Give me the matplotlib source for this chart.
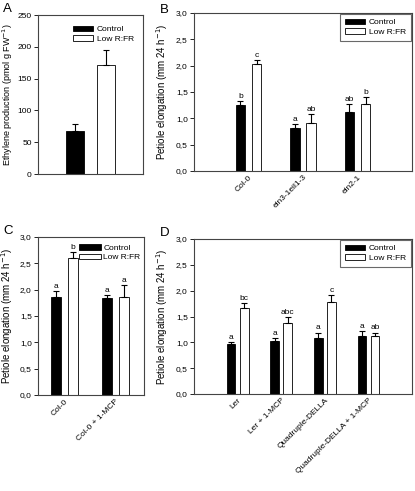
import numpy as np
import matplotlib
matplotlib.use("Agg")
import matplotlib.pyplot as plt
from matplotlib.ticker import FuncFormatter

plt.rcParams['font.family'] = ['Liberation Sans', 'DejaVu Sans']
plt.rcParams['font.size'] = 6

# --- data ---
a_ctrl, a_ctrl_err = 68, 11
a_low, a_low_err = 172, 23

b_labels = ['Col-0', 'ein3-1eil1-3', 'ein2-1']
b_ctrl = [1.25, 0.81, 1.12]
b_ctrl_err = [0.07, 0.09, 0.16]
b_low = [2.03, 0.91, 1.27]
b_low_err = [0.08, 0.17, 0.14]
b_ctrl_let = ['b', 'a', 'ab']
b_low_let = ['c', 'ab', 'b']

c_labels = ['Col-0', 'Col-0 + 1-MCP']
c_ctrl = [1.87, 1.84]
c_ctrl_err = [0.10, 0.06]
c_low = [2.60, 1.86]
c_low_err = [0.12, 0.23]
c_ctrl_let = ['a', 'a']
c_low_let = ['b', 'a']

d_labels = ['Ler', 'Ler + 1-MCP', 'Quadruple-DELLA', 'Quadruple-DELLA + 1-MCP']
d_ctrl = [0.96, 1.02, 1.08, 1.13]
d_ctrl_err = [0.04, 0.06, 0.11, 0.09]
d_low = [1.66, 1.37, 1.79, 1.13]
d_low_err = [0.11, 0.12, 0.12, 0.06]
d_ctrl_let = ['a', 'a', 'a', 'a']
d_low_let = ['bc', 'abc', 'c', 'ab']

fig = plt.figure(figsize=(4.15, 4.91), dpi=100)
W, H = 415, 491


def add_ax(l, t, r, b):
    return fig.add_axes([l / W, 1 - b / H, (r - l) / W, (b - t) / H])


comma = FuncFormatter(lambda v, p: ('%.1f' % v).replace('.', ','))


def style(ax, lx):
    for s in ax.spines.values():
        s.set_color('#444444')
        s.set_linewidth(0.8)
    ax.tick_params(axis='y', direction='out', length=3, width=0.6, pad=1.5, labelsize=6)
    ax.tick_params(axis='x', length=0, pad=2, labelsize=6)
    ax.yaxis.set_label_coords(lx, 0.5)


ekw = dict(capsize=2.5, capthick=0.8, elinewidth=0.8, ecolor='black')


def grouped(ax, labels, ctrl, ctrl_err, low, low_err, cl, ll, width, off):
    x = np.arange(1, len(labels) + 1)
    ax.bar(x - off, ctrl, width, color='black', edgecolor='black', linewidth=0.6,
           yerr=[np.zeros(len(x)), ctrl_err], error_kw=ekw, label='Control')
    ax.bar(x + off, low, width, color='white', edgecolor='black', linewidth=0.6,
           yerr=[np.zeros(len(x)), low_err], error_kw=ekw, label='Low R:FR')
    for xi, v, e, t in zip(x - off, ctrl, ctrl_err, cl):
        ax.text(xi, v + e + 0.02, t, ha='center', va='bottom', fontsize=6)
    for xi, v, e, t in zip(x + off, low, low_err, ll):
        ax.text(xi, v + e + 0.02, t, ha='center', va='bottom', fontsize=6)
    ax.set_xticks(x)
    ax.set_xticklabels(labels, rotation=45, ha='right', rotation_mode='anchor')
    ax.set_ylim(0, 3.0)
    ax.set_yticks(np.arange(0, 3.01, 0.5))
    ax.yaxis.set_major_formatter(comma)
    ax.set_ylabel('Petiole elongation (mm 24 h$^{-1}$)', fontsize=7)


leg_kw = dict(fontsize=6, handlelength=2.4, handleheight=0.6, handletextpad=0.5,
              labelspacing=0.25, borderpad=0.6)

# A
axA = add_ax(38, 15, 143, 174)
axA.bar([1 - 0.3], [a_ctrl], 0.34, color='black', edgecolor='black', linewidth=0.6,
        yerr=[[0], [a_ctrl_err]], error_kw=ekw, label='Control')
axA.bar([1 + 0.3], [a_low], 0.34, color='white', edgecolor='black', linewidth=0.6,
        yerr=[[0], [a_low_err]], error_kw=ekw, label='Low R:FR')
axA.set_xlim(0, 2)
axA.set_ylim(0, 250)
axA.set_yticks(np.arange(0, 251, 50))
axA.set_xticks([])
axA.set_ylabel('Ethylene production (pmol g FW$^{-1}$)', fontsize=6.5)
style(axA, -0.215)
axA.legend(loc='upper right', frameon=False, bbox_to_anchor=(1.0, 0.99), **leg_kw)

# B
axB = add_ax(194, 13, 412, 171)
grouped(axB, b_labels, b_ctrl, b_ctrl_err, b_low, b_low_err, b_ctrl_let, b_low_let, 0.18, 0.147)
axB.set_xlim(0, 4)
style(axB, -0.11)
lg = axB.legend(loc='upper right', frameon=True, fancybox=False, borderaxespad=0.1, **leg_kw)
lg.get_frame().set_edgecolor('#444444')
lg.get_frame().set_linewidth(0.8)

# C
axC = add_ax(38, 237, 144, 395)
grouped(axC, c_labels, c_ctrl, c_ctrl_err, c_low, c_low_err, c_ctrl_let, c_low_let, 0.2, 0.16)
axC.set_xlim(0.48, 2.56)
style(axC, -0.215)
axC.legend(loc='upper right', frameon=False, bbox_to_anchor=(1.02, 0.99),
           fontsize=6, handlelength=2.6, handleheight=0.6, handletextpad=0.3,
           labelspacing=0.2, borderpad=0.2)

# D
axD = add_ax(194, 239, 412, 394)
grouped(axD, d_labels, d_ctrl, d_ctrl_err, d_low, d_low_err, d_ctrl_let, d_low_let, 0.2, 0.15)
axD.set_xlim(0, 5)
style(axD, -0.11)
lg = axD.legend(loc='upper right', frameon=True, fancybox=False, borderaxespad=0.1, **leg_kw)
lg.get_frame().set_edgecolor('#444444')
lg.get_frame().set_linewidth(0.8)

for lbl, x, y in [('A', 3, 3), ('B', 160, 4), ('C', 3, 225), ('D', 160, 227)]:
    fig.text(x / W, 1 - y / H, lbl, fontsize=9.5, va='top', ha='left')

fig.savefig('out.png', dpi=100)
